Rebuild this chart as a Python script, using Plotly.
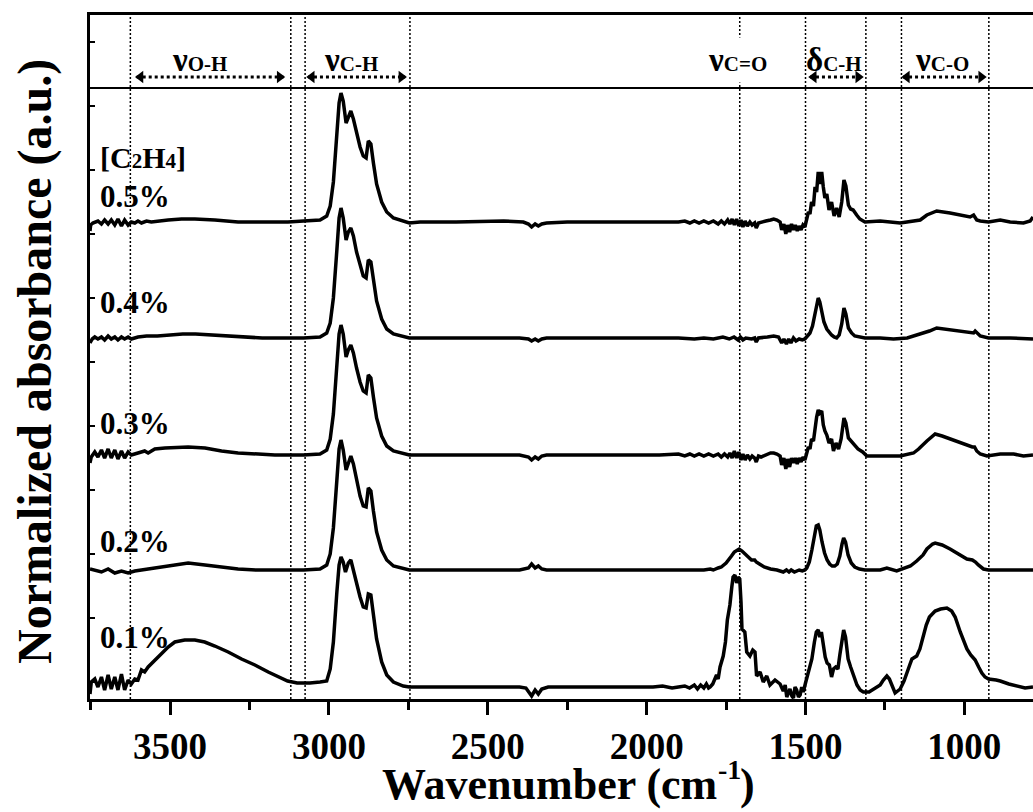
import plotly.graph_objects as go

# ---------------- data ----------------
# Each spectrum: (wavenumber cm-1, normalized absorbance a.u. above its own baseline)
spec_05 = [(3752,-9),(3750,-3),(3743,-1),(3737,0),(3727,1),(3716,-2),(3706,2),(3695,-2),(3685,2),(3674,-3),(3664,3),(3653,-4),(3643,2),(3632,-3),(3622,0),(3611,-1),(3601,1),(3590,-1),(3574,1),(3559,0),(3538,1),(3506,2),(3464,3),(3422,3),(3359,2),(3286,0),(3213,0),(3129,0),(3080,1),(3028,2),(3007,6),(2996,16),(2986,40),(2975,87),(2968,119),(2962,129),(2955,121),(2946,99),(2939,105),(2931,111),(2923,103),(2913,89),(2902,75),(2892,66),(2883,64),(2876,81),(2868,78),(2860,59),(2850,38),(2834,20),(2818,10),(2797,4),(2766,1),(2747,-1),(2713,0),(2600,0),(2450,1),(2388,0),(2372,-2),(2362,-5),(2351,-2),(2341,-4),(2330,-2),(2315,-1),(2250,0),(2100,0),(1960,0),(1900,0),(1880,1),(1864,-1),(1850,1),(1835,-1),(1820,1),(1805,-1),(1790,1),(1775,-2),(1765,1),(1755,-2),(1745,2),(1738,-2),(1731,3),(1724,-3),(1717,3),(1710,-4),(1703,2),(1697,-5),(1690,1),(1683,-4),(1675,0),(1668,-3),(1660,-1),(1655,-6),(1648,-1),(1640,0),(1625,1),(1610,2),(1600,3),(1590,2),(1580,0),(1575,-8),(1568,-2),(1562,-12),(1556,-3),(1550,-10),(1544,-2),(1538,-8),(1532,-3),(1526,-9),(1520,-4),(1514,-8),(1508,-3),(1502,-5),(1496,3),(1491,10),(1486,8),(1481,20),(1475,16),(1470,35),(1465,30),(1460,50),(1455,38),(1449,50),(1444,35),(1439,24),(1433,28),(1426,12),(1418,20),(1410,6),(1402,14),(1394,5),(1386,20),(1379,42),(1373,36),(1365,17),(1358,13),(1350,12),(1339,7),(1329,3),(1313,0),(1265,1),(1202,-1),(1139,2),(1118,7),(1087,11),(1045,9),(1013,7),(982,5),(971,7),(961,2),(950,1),(924,0),(887,2),(856,0),(814,-1),(793,1),(784,5)]

spec_04 = [(3752,-5),(3745,-1),(3737,1),(3727,-1),(3716,1),(3706,-2),(3695,2),(3685,-1),(3674,1),(3664,-2),(3653,1),(3643,-1),(3632,1),(3622,-1),(3601,1),(3574,2),(3540,2),(3500,3),(3460,4),(3420,4),(3360,3),(3290,2),(3210,0),(3130,0),(3080,0),(3028,1),(3007,5),(2996,15),(2986,40),(2975,88),(2968,120),(2962,130),(2955,120),(2946,98),(2939,106),(2931,110),(2923,102),(2913,86),(2902,72),(2892,62),(2883,60),(2876,78),(2868,76),(2860,57),(2850,37),(2834,19),(2818,9),(2797,4),(2766,1),(2747,0),(2713,0),(2400,0),(2372,-1),(2362,-3),(2351,-1),(2341,-3),(2330,-1),(2315,0),(2021,0),(1900,0),(1850,-1),(1820,0),(1790,-1),(1760,1),(1740,-1),(1725,1),(1712,-2),(1705,1),(1697,-2),(1688,0),(1670,-1),(1660,0),(1655,-4),(1648,0),(1620,1),(1600,2),(1585,1),(1575,-5),(1568,-1),(1560,-6),(1553,-1),(1546,-5),(1538,0),(1530,-3),(1520,-1),(1510,-2),(1502,-1),(1496,1),(1486,5),(1478,12),(1470,25),(1465,36),(1460,40),(1455,36),(1449,26),(1442,16),(1433,9),(1425,5),(1418,3),(1410,1),(1402,0),(1394,3),(1386,14),(1379,30),(1373,24),(1365,10),(1355,5),(1345,2),(1330,1),(1313,0),(1265,0),(1223,-1),(1180,0),(1139,4),(1110,7),(1087,10),(1045,8),(1000,6),(982,5),(971,5),(966,7),(958,4),(950,2),(924,0),(856,0),(784,-1)]

spec_03 = [(3752,-8),(3748,-2),(3737,3),(3727,-2),(3716,5),(3706,-3),(3695,6),(3685,-3),(3674,5),(3664,-4),(3653,4),(3643,-3),(3632,3),(3622,0),(3601,2),(3580,4),(3569,2),(3548,6),(3516,7),(3475,8),(3443,8),(3390,7),(3338,4),(3286,2),(3230,1),(3170,0),(3080,0),(3028,1),(3007,5),(2996,16),(2986,41),(2975,89),(2968,121),(2962,130),(2955,121),(2946,98),(2939,105),(2931,110),(2923,102),(2913,87),(2902,73),(2892,64),(2883,62),(2876,80),(2868,77),(2860,58),(2850,37),(2834,19),(2818,9),(2797,4),(2766,1),(2747,0),(2713,0),(2400,0),(2372,-2),(2362,-5),(2351,-2),(2341,-4),(2330,-1),(2315,0),(2021,0),(1960,0),(1900,1),(1880,-1),(1864,1),(1850,-1),(1835,1),(1820,-1),(1805,1),(1790,-1),(1775,1),(1765,-2),(1755,1),(1745,-2),(1738,2),(1731,-3),(1724,4),(1717,-3),(1710,3),(1703,-5),(1697,1),(1690,-5),(1683,0),(1675,-4),(1668,-1),(1660,-3),(1655,-7),(1648,-1),(1640,-2),(1625,0),(1610,2),(1600,2),(1590,1),(1580,-1),(1575,-10),(1568,-3),(1562,-14),(1556,-4),(1550,-12),(1544,-3),(1538,-8),(1532,-3),(1526,-9),(1520,-3),(1514,-7),(1508,-2),(1502,-5),(1496,2),(1491,8),(1486,6),(1481,16),(1475,14),(1470,30),(1465,38),(1460,45),(1455,42),(1449,44),(1444,30),(1439,24),(1433,20),(1426,12),(1418,16),(1412,4),(1404,12),(1396,6),(1388,16),(1379,37),(1373,32),(1365,17),(1355,13),(1345,10),(1335,6),(1320,3),(1307,-1),(1265,-1),(1202,-1),(1160,2),(1144,6),(1118,14),(1092,21),(1070,19),(1045,16),(1020,13),(992,10),(975,8),(968,8),(961,4),(950,1),(929,-1),(887,1),(845,1),(814,-1),(784,0)]

spec_02 = [(3752,1),(3737,0),(3716,-2),(3695,1),(3674,-3),(3653,-1),(3632,-3),(3611,-1),(3590,0),(3548,2),(3496,5),(3443,7),(3390,5),(3338,3),(3286,1),(3230,0),(3130,0),(3080,0),(3028,1),(3007,5),(2996,16),(2986,42),(2975,90),(2968,121),(2962,130),(2955,120),(2946,100),(2939,108),(2931,114),(2923,106),(2913,89),(2902,74),(2892,64),(2883,63),(2876,82),(2868,79),(2860,59),(2850,38),(2834,20),(2818,10),(2797,4),(2766,1),(2747,0),(2713,0),(2400,0),(2372,2),(2362,6),(2351,2),(2341,4),(2330,1),(2315,0),(2021,0),(1900,0),(1820,0),(1800,1),(1790,0),(1775,2),(1765,3),(1750,7),(1742,11),(1733,14),(1724,18),(1716,20),(1709,21),(1700,19),(1690,16),(1680,12),(1670,10),(1660,10),(1655,8),(1645,6),(1630,3),(1610,1),(1590,0),(1570,-2),(1560,0),(1552,-2),(1545,0),(1535,-2),(1520,0),(1510,-1),(1502,0),(1496,2),(1488,8),(1480,20),(1472,35),(1466,44),(1460,45),(1455,40),(1448,28),(1440,17),(1432,10),(1424,6),(1416,4),(1408,4),(1400,6),(1392,14),(1385,26),(1380,32),(1374,28),(1366,15),(1356,7),(1345,3),(1330,1),(1313,0),(1265,0),(1244,2),(1213,-1),(1192,1),(1170,4),(1150,9),(1130,15),(1118,21),(1100,26),(1092,27),(1070,25),(1045,21),(1020,16),(992,11),(975,10),(965,8),(956,5),(940,1),(924,0),(784,0)]

spec_01 = [(3752,-7),(3748,5),(3737,8),(3727,0),(3716,10),(3706,-3),(3695,12),(3685,-2),(3674,10),(3664,-3),(3653,13),(3643,-3),(3632,7),(3622,3),(3611,8),(3601,7),(3590,17),(3580,15),(3569,20),(3559,23),(3548,27),(3527,33),(3506,40),(3485,45),(3454,47),(3422,47),(3391,45),(3359,41),(3317,35),(3275,28),(3233,22),(3191,15),(3160,10),(3130,6),(3100,4),(3060,4),(3028,5),(3007,6),(2996,18),(2986,45),(2975,95),(2968,122),(2962,130),(2955,125),(2948,115),(2939,124),(2931,127),(2923,118),(2913,104),(2902,90),(2892,80),(2883,79),(2876,93),(2868,92),(2860,72),(2850,48),(2834,25),(2818,12),(2797,5),(2766,1),(2747,0),(2713,0),(2600,0),(2400,0),(2380,-1),(2362,-9),(2351,-3),(2341,-7),(2330,-2),(2310,0),(2100,0),(1980,0),(1950,1),(1920,-1),(1900,0),(1880,1),(1865,-1),(1850,2),(1840,-2),(1830,2),(1820,-1),(1812,3),(1805,-1),(1800,0),(1792,3),(1786,8),(1780,12),(1775,8),(1769,20),(1759,31),(1752,45),(1746,67),(1738,82),(1732,100),(1728,110),(1722,112),(1717,104),(1712,110),(1707,108),(1703,85),(1700,58),(1691,55),(1685,35),(1675,31),(1666,37),(1659,35),(1654,11),(1643,15),(1633,5),(1622,11),(1612,2),(1596,7),(1580,3),(1570,-4),(1564,2),(1559,-10),(1549,-2),(1543,-9),(1538,-11),(1533,0),(1528,-3),(1522,-10),(1517,-8),(1512,0),(1507,-5),(1500,4),(1495,10),(1488,18),(1480,28),(1472,45),(1466,55),(1460,57),(1455,50),(1450,55),(1444,40),(1438,30),(1432,24),(1425,22),(1418,10),(1412,18),(1405,20),(1398,18),(1392,32),(1385,50),(1380,57),(1374,50),(1366,28),(1358,20),(1348,10),(1338,2),(1328,-3),(1318,-5),(1300,-5),(1285,-2),(1265,2),(1255,7),(1244,11),(1236,8),(1228,2),(1218,-6),(1210,-4),(1202,-2),(1190,6),(1181,15),(1172,22),(1165,28),(1150,31),(1140,38),(1130,50),(1120,62),(1110,70),(1092,76),(1075,78),(1055,79),(1040,76),(1029,70),(1013,55),(1000,45),(992,38),(980,32),(966,27),(955,20),(945,14),(935,10),(924,8),(900,7),(887,6),(860,3),(845,2),(809,-1),(784,0)]

series_labels = ["0.1%", "0.2%", "0.3%", "0.4%", "0.5%"]
series_specs = [spec_01, spec_02, spec_03, spec_04, spec_05]
series_offsets = [12, 129, 244, 361, 477]          # vertical stacking offsets (a.u.)
label_levels = [62, 158, 276, 397, 503]             # y of the concentration labels (a.u.)

guide_lines = [3625, 3120, 3075, 2745, 1707, 1500, 1310, 1198, 923]   # dotted band limits
SUB = "<span style='font-size:21px'>{}</span>"
band_names = ["ν" + SUB.format("O-H"), "ν" + SUB.format("C-H"), "ν" + SUB.format("C=O"),
              "δ" + SUB.format("C-H"), "ν" + SUB.format("C-O")]
band_centers = [3406, 2930, 1715, 1410, 1070]
band_arrows = [(3605, 3143), (3066, 2760), None, (1486, 1322), (1193, 935)]

X_RANGE = [3752, 784]
Y_RANGE = [0, 684]
X_TICKS = [3500, 3000, 2500, 2000, 1500, 1000]

FONT = "Liberation Serif"

fig = go.Figure()

for spec, off in zip(series_specs, series_offsets):
    fig.add_trace(go.Scatter(
        x=[p[0] for p in spec], y=[off + p[1] for p in spec],
        mode="lines", line=dict(color="black", width=3.5),
        showlegend=False, hoverinfo="skip"))

# dotted guide lines
for wn in guide_lines:
    fig.add_shape(type="line", xref="x", yref="paper", x0=wn, x1=wn, y0=0, y1=1,
                  line=dict(color="black", width=1.5, dash="2px,2px"), layer="below")

# divider under the band labels
fig.add_shape(type="line", xref="paper", yref="y", x0=0, x1=1, y0=611, y1=611,
              line=dict(color="black", width=2))

# band labels and dotted double arrows
ARROW_Y = 622
head_x, head_sym = [], []
for name, cx, arr in zip(band_names, band_centers, band_arrows):
    fig.add_annotation(x=cx, y=639, xref="x", yref="y", text=name, showarrow=False,
                       font=dict(family=FONT, size=33, color="black", weight="bold"),
                       bgcolor="white" if arr is None else None, borderpad=4,
                       xanchor="center", yanchor="middle")
    if arr is not None:
        a, b = arr
        fig.add_shape(type="line", xref="x", yref="y", x0=a, x1=b, y0=ARROW_Y, y1=ARROW_Y,
                      line=dict(color="black", width=3, dash="3px,3px"))
        head_x += [a - 12, b + 12]
        head_sym += ["triangle-left", "triangle-right"]

fig.add_trace(go.Scatter(x=head_x, y=[ARROW_Y] * len(head_x), mode="markers",
                         marker=dict(symbol=head_sym, size=11, color="black"),
                         showlegend=False, hoverinfo="skip"))

# concentration labels
for lab, ly in zip(series_labels, label_levels):
    fig.add_annotation(x=0.0085, y=ly, xref="paper", yref="y", text=lab, showarrow=False,
                       font=dict(family=FONT, size=31, color="black", weight="bold"),
                       xanchor="left", yanchor="middle")
SMALL = "<span style='font-size:21px'>{}</span>"
fig.add_annotation(x=0.0085, y=542, xref="paper", yref="y",
                   text="[C" + SMALL.format("2") + "H" + SMALL.format("4") + "]",
                   showarrow=False, font=dict(family=FONT, size=30, color="black", weight="bold"),
                   xanchor="left", yanchor="middle")

# x-axis title: "Wavenumber (cm" + raised "-1" + ")"
TITLE_FONT = dict(family=FONT, size=44, color="black", weight="bold")
fig.add_annotation(x=0, y=0, xref="paper", yref="paper", xshift=290, yshift=-85,
                   text="Wavenumber (cm", showarrow=False, font=TITLE_FONT,
                   xanchor="left", yanchor="middle")
fig.add_annotation(x=0, y=0, xref="paper", yref="paper", xshift=627, yshift=-70,
                   text="-1", showarrow=False,
                   font=dict(family=FONT, size=28, color="black", weight="bold"),
                   xanchor="left", yanchor="middle", borderpad=0)
fig.add_annotation(x=0, y=0, xref="paper", yref="paper", xshift=648, yshift=-85,
                   text=")", showarrow=False, font=TITLE_FONT,
                   xanchor="left", yanchor="middle")

fig.add_annotation(x=0, y=0.4927, xref="paper", yref="paper", xshift=-55,
                   text="Normalized absorbance (a.u.)", showarrow=False, textangle=-90,
                   font=dict(family=FONT, size=48, color="black", weight="bold"),
                   xanchor="center", yanchor="middle")

fig.update_layout(
    width=1033, height=812,
    margin=dict(l=90, r=0, t=15, b=113),
    paper_bgcolor="white", plot_bgcolor="white",
    font=dict(family=FONT, color="black"),
    xaxis=dict(range=X_RANGE, tickvals=X_TICKS, ticks="outside", ticklen=13, tickwidth=3,
               tickcolor="black", showline=True, linewidth=3, linecolor="black", mirror=True,
               showgrid=False, zeroline=False,
               tickfont=dict(family=FONT, size=37, color="black", weight="bold"),
               minor=dict(dtick=250, tick0=0, ticks="outside", ticklen=8, tickwidth=3,
                          tickcolor="black", showgrid=False)),
    yaxis=dict(range=Y_RANGE, tick0=17, dtick=64, ticks="inside", ticklen=5, tickwidth=2,
               tickcolor="black", showticklabels=False, showline=True, linewidth=3,
               linecolor="black", mirror=False, showgrid=False, zeroline=False),
)

fig.write_html("out.html")
